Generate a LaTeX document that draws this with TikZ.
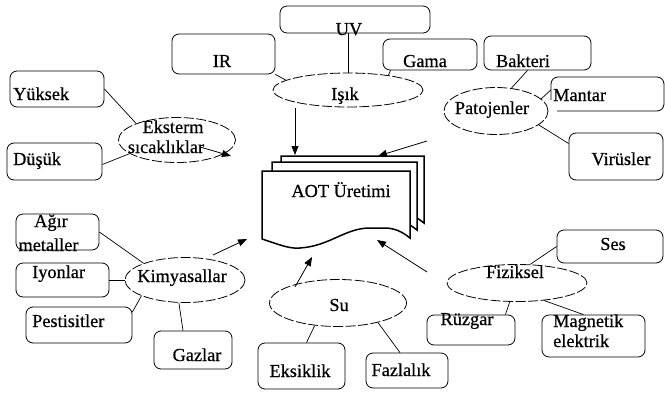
\documentclass[tikz,border=0pt]{standalone}
\usepackage{fontspec}
\setmainfont{Liberation Serif}[FakeBold=0.6]
\usetikzlibrary{arrows.meta,shapes.geometric,calc}
\begin{document}
\begin{tikzpicture}[x=1pt,y=-1pt,
  box/.style={draw, rounded corners=7pt, line width=0.8pt, inner sep=0pt},
  ell/.style={draw, ellipse, inner sep=0pt, line width=0.8pt, dash pattern=on 10pt off 2.5pt},
  txt/.style={anchor=base, inner sep=0pt, font=\fontsize{18.3}{20}\selectfont},
  txtw/.style={anchor=base west, inner sep=0pt, font=\fontsize{18.3}{20}\selectfont},
  conn/.style={line width=0.7pt},
  arr/.style={line width=0.8pt, -{Triangle[length=9pt,width=7pt]}},
  page/.style={draw, fill=white, line width=1.5pt, line join=miter}]
\useasboundingbox (0,0) rectangle (665,394);

% document stack
\path[page] (281,156) -- (424,156) -- (424,223) .. controls (419,219) and (412,214) .. (401,213) -- (384,213) .. controls (359,213) and (344,231) .. (314,233) .. controls (304,234) and (292,230) .. (281,225) -- cycle;
\path[page] (272,162) -- (417,162) -- (417,230) .. controls (412,226) and (405,221) .. (394,220) -- (377,220) .. controls (352,220) and (337,238) .. (307,240) .. controls (297,241) and (285,237) .. (272,232) -- cycle;
\path[page] (262,171) -- (410,171) -- (410,238) .. controls (405,234) and (398,229) .. (387,228) -- (370,228) .. controls (345,228) and (330,246) .. (300,248) .. controls (290,249) and (280,245) .. (262,239) -- cycle;
\node[txt] (aot) at (341,197) {AOT Üretimi};

% boxes
\node[box, minimum width=150pt, minimum height=27pt] (uv) at (355,19.5) {};
\node[box, minimum width=103pt, minimum height=40pt] (ir) at (223.5,54) {};
\node[box, minimum width=94pt, minimum height=31pt] (gama) at (430,54.5) {};
\node[box, minimum width=107pt, minimum height=34pt] (bakteri) at (537.5,53) {};
\node[inner sep=0pt, minimum width=113pt, minimum height=34pt] (mantar) at (607.5,94) {};
\draw[line width=0.8pt, rounded corners=7pt] (551,100) -- (551,77) -- (664,77) -- (664,111) -- (557,111);
\node[box, minimum width=94pt, minimum height=47pt] (virus) at (616,156.5) {};
\node[box, minimum width=94pt, minimum height=36pt] (yuksek) at (57,89) {};
\node[box, minimum width=95pt, minimum height=37pt] (dusuk) at (54.5,161.5) {};
\node[box, minimum width=83pt, minimum height=36pt] (agir) at (57.5,232) {};
\node[box, minimum width=93pt, minimum height=34pt] (iyon) at (62.5,280) {};
\node[box, minimum width=106pt, minimum height=36pt] (pest) at (79,325) {};
\node[box, minimum width=78pt, minimum height=38pt] (gaz) at (193,350) {};
\node[box, minimum width=87pt, minimum height=46pt] (eksik) at (301.5,366) {};
\node[box, minimum width=82pt, minimum height=35pt] (fazla) at (407,370.5) {};
\node[box, minimum width=88pt, minimum height=30pt] (ruzgar) at (471,330) {};
\node[box, minimum width=103pt, minimum height=42pt] (magnet) at (593.5,336) {};
\node[box, minimum width=106pt, minimum height=33pt] (ses) at (610,246.5) {};

% ellipses
\node[ell, minimum width=150pt, minimum height=34pt] (isik) at (348,90) {};
\node[ell, minimum width=117pt, minimum height=45pt] (eksterm) at (177,140) {};
\node[ell, minimum width=104pt, minimum height=47pt] (pato) at (496,111) {};
\node[ell, minimum width=120pt, minimum height=45pt] (kimya) at (185,280) {};
\node[ell, minimum width=137pt, minimum height=47pt] (su) at (338,303) {};
\node[ell, minimum width=140pt, minimum height=37pt] (fiz) at (517,283) {};

% texts
\node[txt] (tuv) at (349,35) {UV};
\node[txt] (tir) at (222,67) {IR};
\node[txt] (tgama) at (425,67) {Gama};
\node[txt] (tisik) at (345,100) {Işık};
\node[txt] (teks1) at (173,133) {Eksterm};
\node[txt] (teks2) at (166,153) {sıcaklıklar};
\node[txtw] (tyuk) at (13,100) {Yüksek};
\node[txtw] (tdus) at (13,165) {Düşük};
\node[txt] (tbak) at (523,67) {Bakteri};
\node[txtw] (tman) at (553,101) {Mantar};
\node[txt] (tpato) at (492,114) {Patojenler};
\node[txt] (tvir) at (621,165) {Virüsler};
\node[txt] (tagir1) at (51,227) {Ağır};
\node[txt] (tagir2) at (48.5,251) {metaller};
\node[txtw] (tiyon) at (32,278) {Iyonlar};
\node[txt] (tkim) at (182,282) {Kimyasallar};
\node[txtw] (tpest) at (32,327) {Pestisitler};
\node[txt] (tgaz) at (197,361) {Gazlar};
\node[txt] (tsu) at (339,311) {Su};
\node[txt] (teksik) at (300,377) {Eksiklik};
\node[txt] (tfazla) at (401,376) {Fazlalık};
\node[txt] (tfiz) at (515,278) {Fiziksel};
\node[txt] (tses) at (613,250) {Ses};
\node[txt] (truz) at (467,325) {Rüzgar};
\node[txtw] (tmag1) at (553,327) {Magnetik};
\node[txtw] (tmag2) at (553,347) {elektrik};

% connectors
\draw[conn] (isik.north) -- (isik.north |- uv.south);
\draw[conn] (ir.south east) -- (isik.171);
\draw[conn] ($(gama.south west)+(8,0)$) -- (isik.20);
\draw[conn] (yuksek.east) -- (eksterm.158);
\draw[conn] ($(dusuk.east)+(0,3)$) -- (eksterm.196);
\draw[conn] ($(bakteri.south)+(-10,0)$) -- (pato.56);
\draw[conn] ($(mantar.west)+(0,-4)$) -- (pato.15);
\draw[conn] (pato.-18) -- ($(virus.west)+(0,-13)$);
\draw[conn] (agir.east) -- (kimya.158);
\draw[conn] (iyon.east) -- (kimya.west);
\draw[conn] ($(pest.east)+(0,-13)$) -- (kimya.200);
\draw[conn] ($(gaz.north)+(-10,0)$) -- (kimya.255);
\draw[conn] ($(eksik.north)+(5,0)$) -- (su.224);
\draw[conn] ($(fazla.north)+(-7,0)$) -- (su.-26);
\draw[conn] (ses.west) -- (fiz.55);
\draw[conn] ($(ruzgar.north east)+(-10,0)$) -- (fiz.249);
\draw[conn] ($(magnet.north)+(-10,0)$) -- (fiz.-33);

% arrows to AOT
\coordinate (a1s) at (295,108); \coordinate (a1e) at (295,155);
\coordinate (a2s) at (427,141); \coordinate (a2e) at (378,156);
\coordinate (a3s) at (200,147); \coordinate (a3e) at (231,156);
\coordinate (a4s) at (213,255); \coordinate (a4e) at (247,239);
\coordinate (a5s) at (295,287); \coordinate (a5e) at (312,257);
\coordinate (a6s) at (427,272); \coordinate (a6e) at (377,240);
\draw[arr] (a1s) -- (a1e);
\draw[arr] (a2s) -- (a2e);
\draw[arr] (a3s) -- (a3e);
\draw[arr] (a4s) -- (a4e);
\draw[arr] (a5s) -- (a5e);
\draw[arr] (a6s) -- (a6e);
\end{tikzpicture}
\end{document}
